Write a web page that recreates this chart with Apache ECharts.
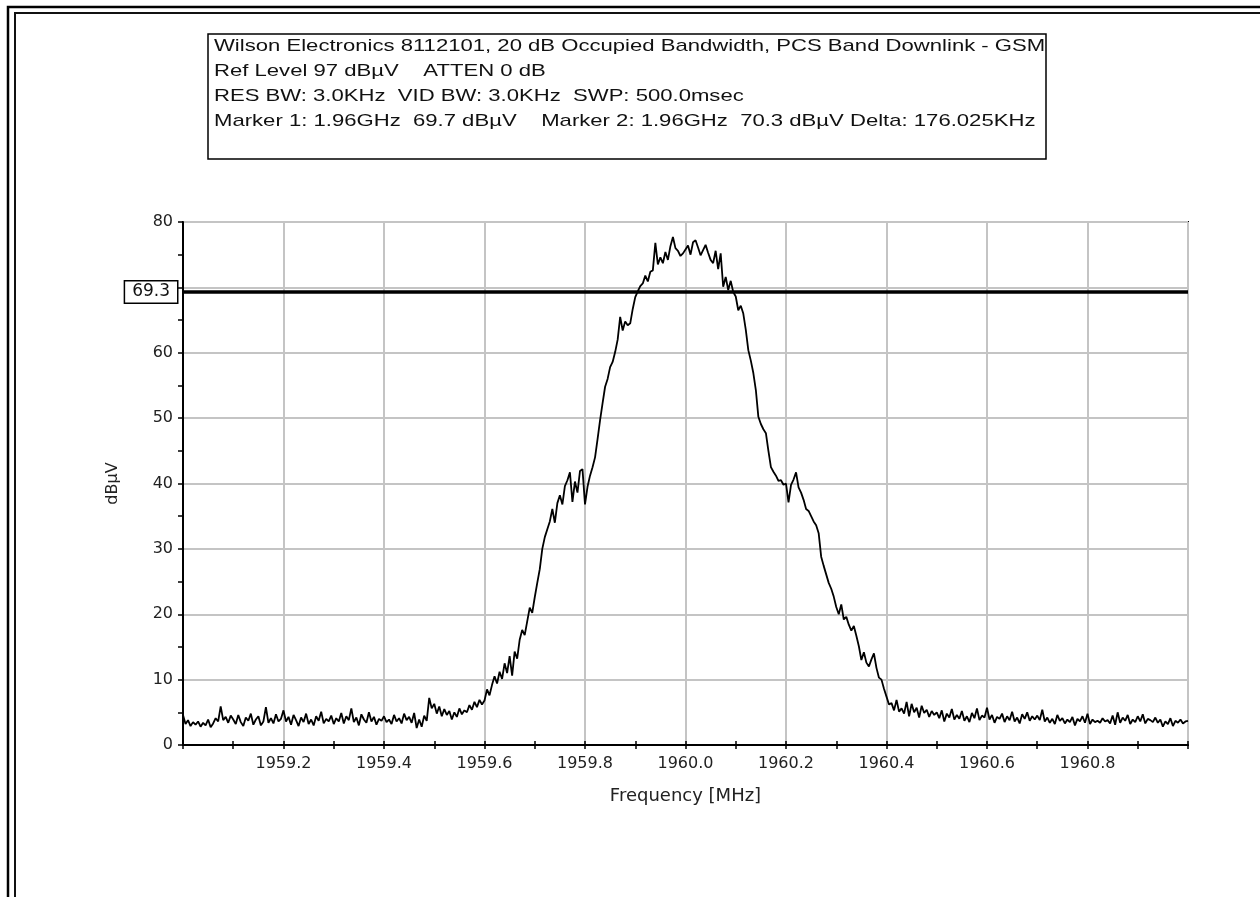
<!DOCTYPE html>
<html><head><meta charset="utf-8">
<script src="https://cdn.jsdelivr.net/npm/echarts@6/dist/echarts.min.js"></script>
<style>html,body{margin:0;padding:0;background:#fff}#c{width:1260px;height:897px}</style>
</head><body><div id="c"></div>
<script>
const titleLines = [
  'Wilson Electronics 8112101, 20 dB Occupied Bandwidth, PCS Band Downlink - GSM',
  'Ref Level 97 dBµV    ATTEN 0 dB',
  'RES BW: 3.0KHz  VID BW: 3.0KHz  SWP: 500.0msec',
  'Marker 1: 1.96GHz  69.7 dBµV    Marker 2: 1.96GHz  70.3 dBµV Delta: 176.025KHz'
];
const xAxisName = 'Frequency [MHz]';
const yAxisName = 'dBµV';
const freqMin = 1959.0, freqMax = 1961.0, freqStep = 0.005;
const markerLevel = 69.3;
const levelDbuv = [
  4.6,3.2,3.8,2.9,3.5,3.1,3.6,2.8,3.4,3.0,3.9,2.7,3.3,4.1,3.6,5.9,3.8,4.3,3.4,4.5,
  3.9,3.2,4.6,3.5,2.9,4.2,3.7,4.8,3.1,3.9,4.4,3.0,3.6,5.8,3.4,4.1,3.3,4.7,3.6,4.0,
  5.3,3.6,4.3,3.1,4.6,3.8,2.9,4.2,3.5,4.8,3.2,3.9,3.0,4.4,3.7,5.1,3.3,4.0,3.6,4.5,
  3.2,4.1,3.6,4.9,3.3,4.4,3.8,5.6,3.5,4.2,3.0,4.7,3.9,3.4,5.0,3.6,4.3,3.1,4.0,3.7,
  4.4,3.5,3.9,3.2,4.6,3.6,4.1,3.3,4.8,3.8,4.3,3.4,4.9,2.6,3.9,2.8,4.5,3.7,7.2,5.6,
  6.3,4.8,5.9,4.4,5.5,4.6,5.2,3.9,5.0,4.3,5.6,4.7,5.3,5.0,6.1,5.4,6.6,5.8,6.9,6.2,
  6.8,8.5,7.6,9.2,10.5,9.4,11.2,10.1,12.5,11.0,13.6,10.6,14.3,13.2,16.1,17.6,16.8,18.9,21.0,20.2,
  22.6,24.8,26.9,30.0,31.8,33.0,34.2,36.1,34.0,37.0,38.2,36.8,39.6,40.5,41.7,37.2,40.3,38.6,41.9,42.2,
  36.8,39.5,41.2,42.5,44.0,46.8,49.7,52.3,54.8,56.0,57.8,58.6,60.1,62.0,65.5,63.4,64.8,64.2,64.5,66.7,
  68.5,69.4,70.2,70.6,71.8,70.9,72.4,72.6,76.8,73.5,74.6,73.7,75.4,74.2,76.3,77.7,76.0,75.6,74.8,75.2,
  75.8,76.4,75.0,76.9,77.2,76.1,74.9,75.7,76.5,75.3,74.2,73.7,75.6,72.8,75.2,70.1,71.6,69.6,71.0,69.3,
  68.6,66.5,67.2,66.0,63.5,60.4,58.8,56.9,54.3,50.2,49.1,48.3,47.7,45.0,42.5,41.8,41.2,40.4,40.5,39.8,
  40.0,37.1,39.8,40.6,41.7,39.4,38.6,37.5,36.1,35.8,35.0,34.2,33.6,32.4,28.8,27.4,26.1,24.8,23.9,22.7,
  21.1,20.0,21.5,19.2,19.6,18.4,17.5,18.2,16.7,15.1,13.0,14.2,12.6,12.0,13.1,14.0,11.8,10.3,10.0,8.6,
  7.4,6.2,6.4,5.3,6.9,5.1,5.6,4.8,6.6,4.4,6.3,5.0,5.7,4.2,6.0,4.9,5.4,4.3,5.2,4.6,
  5.0,4.1,5.3,3.6,4.8,4.2,5.5,3.9,4.6,4.0,5.2,3.7,4.4,3.5,4.9,4.1,5.6,3.8,4.5,4.2,
  5.7,3.9,4.6,3.4,4.3,4.0,4.8,3.5,4.4,3.8,5.1,3.6,4.2,3.3,4.7,4.0,5.0,3.7,4.4,3.9,
  4.5,3.8,5.4,3.6,4.2,3.4,4.0,3.2,4.6,3.7,4.1,3.3,3.9,3.5,4.3,3.0,4.0,3.6,4.4,3.4,
  4.8,3.2,3.9,3.5,3.7,3.4,4.1,3.6,3.8,3.3,4.5,3.1,5.0,3.4,4.2,3.7,4.6,3.2,3.9,3.5,
  4.4,3.6,4.7,3.3,4.0,3.8,3.5,4.2,3.4,3.9,2.8,3.6,3.2,4.1,2.9,3.7,3.4,3.9,3.3,3.6,
  3.7
];

const seriesData = levelDbuv.map((v, i) => [+(freqMin + i * freqStep).toFixed(3), v]);
const FONT = '"Liberation Sans", Arial, sans-serif';
const WIDE = '"DejaVu Sans", sans-serif';

const chart = echarts.init(document.getElementById('c'), null, {renderer: 'canvas'});
const textEls = titleLines.map((t, i) => ({
  type: 'text', x: 214, y: 46 + i * 25, scaleX: 1.3,
  style: {text: t, font: '17px ' + FONT, fill: '#111', textVerticalAlign: 'middle'}
}));

chart.setOption({
  animation: false,
  backgroundColor: '#fff',
  grid: {left: 183, right: 72, top: 222, bottom: 152, show: true, borderColor: '#000', borderWidth: 2},
  xAxis: [{
    type: 'value', min: freqMin, max: freqMax, interval: 0.2,
    name: xAxisName, nameLocation: 'middle', nameGap: 42,
    nameTextStyle: {fontFamily: WIDE, fontSize: 18, color: '#222'},
    axisLine: {lineStyle: {color: '#000', width: 2}},
    axisTick: {show: true, length: 4, lineStyle: {color: '#000', width: 1.5}},
    minorTick: {show: true, splitNumber: 2, length: 4, lineStyle: {color: '#000', width: 1.5}},
    axisLabel: {showMinLabel: false, showMaxLabel: false, margin: 11,
      formatter: v => v.toFixed(1), fontFamily: WIDE, fontSize: 16, color: '#222'},
    splitLine: {show: true, lineStyle: {color: '#c4c4c4', width: 2}}
  }, {
    type: 'value', min: freqMin, max: freqMax, interval: 0.2, position: 'bottom',
    axisLine: {show: false},
    axisTick: {show: true, inside: true, length: 4, lineStyle: {color: '#000', width: 1.5}},
    minorTick: {show: true, splitNumber: 2, length: 4, lineStyle: {color: '#000', width: 1.5}},
    axisLabel: {show: false}, splitLine: {show: false}
  }],
  yAxis: {
    type: 'value', min: 0, max: 80, interval: 10,
    name: yAxisName, nameLocation: 'middle', nameGap: 62, nameRotate: 90,
    nameTextStyle: {fontFamily: WIDE, fontSize: 16, color: '#222'},
    axisLine: {show: true, lineStyle: {color: '#000', width: 2}},
    axisTick: {show: true, length: 5, lineStyle: {color: '#000', width: 1.5}},
    minorTick: {show: true, splitNumber: 2, length: 5, lineStyle: {color: '#000', width: 1.5}},
    axisLabel: {margin: 10, fontFamily: WIDE, fontSize: 16, color: '#222',
      formatter: v => (v === 70 ? '' : String(v))},
    splitLine: {show: true, lineStyle: {color: '#c4c4c4', width: 2}}
  },
  series: [{
    type: 'line', data: seriesData, showSymbol: false, symbol: 'none',
    lineStyle: {color: '#000', width: 1.8}, z: 5,
    markLine: {
      silent: true, symbol: ['none', 'none'],
      lineStyle: {color: '#000', width: 3.5, type: 'solid'},
      label: {position: 'start', formatter: String(markerLevel), distance: 6,
        fontFamily: WIDE, fontSize: 17, lineHeight: 18, color: '#111', backgroundColor: '#fff',
        borderColor: '#000', borderWidth: 1.5, padding: [2, 7, 1, 7]},
      data: [{yAxis: markerLevel}]
    }
  }],
  graphic: [
    {type: 'rect', shape: {x: 8, y: 7, width: 1400, height: 1000}, style: {fill: 'none', stroke: '#000', lineWidth: 2.5}},
    {type: 'rect', shape: {x: 15, y: 13, width: 1400, height: 1000}, style: {fill: 'none', stroke: '#111', lineWidth: 2}},
    {type: 'rect', shape: {x: 208, y: 34, width: 838, height: 125}, style: {fill: '#fff', stroke: '#000', lineWidth: 1.5}},
    ...textEls
  ]
});
</script></body></html>
